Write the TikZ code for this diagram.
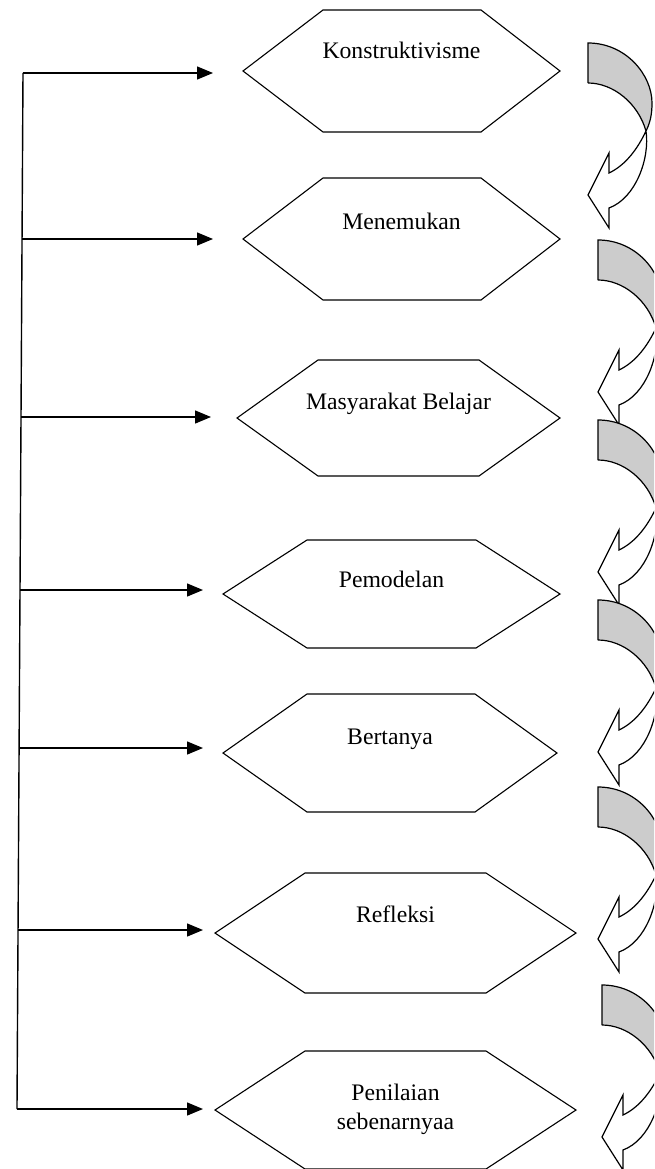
\documentclass[tikz,border=0pt]{standalone}
\usepackage{fontspec}
\setmainfont{Liberation Serif}
\usetikzlibrary{arrows.meta}
\tikzset{
  hexline/.style={line width=1.1pt, line join=miter},
  label/.style={anchor=base, inner sep=0pt, font=\fontsize{23.7}{28.5}\selectfont, align=center},
  feed/.style={line width=1.4pt, -{Triangle[length=16pt,width=13pt]}},
  spine/.style={line width=1.4pt},
  curvarrow/.pic={
    \fill[black!20] (0,0) .. controls (38,0) and (64,32) .. (64,60)
      .. controls (64,72) and (62,80) .. (58,88)
      .. controls (50,60) and (25,40) .. (0,40) -- cycle;
    \fill[white] (58,88) .. controls (62,115) and (48,155) .. (21,165)
      -- (21,185) -- (0,152) -- (21,110) -- (21,130)
      .. controls (38,122) and (50,105) .. (58,88) -- cycle;
    \draw[line width=1.2pt, line join=miter] (0,40) -- (0,0)
      .. controls (38,0) and (64,32) .. (64,60)
      .. controls (64,72) and (62,80) .. (58,88)
      .. controls (50,105) and (38,122) .. (21,130)
      -- (21,110) -- (0,152) -- (21,185) -- (21,165)
      .. controls (48,155) and (62,115) .. (58,88)
      .. controls (50,60) and (25,40) .. (0,40);
  }
}
\begin{document}
\begin{tikzpicture}[x=1pt,y=-1pt]
\clip (0,0) rectangle (654,1169);
\fill[white] (0,0) rectangle (654,1169);

% hexagons
\draw[hexline] (243,71) -- (323,10) -- (481,10) -- (560,71) -- (481,132) -- (323,132) -- cycle;
\draw[hexline] (243,239) -- (323,178) -- (481,178) -- (560,239) -- (481,300) -- (323,300) -- cycle;
\draw[hexline] (237,418) -- (318,360) -- (479,360) -- (560,418) -- (479,476) -- (318,476) -- cycle;
\draw[hexline] (223,594) -- (307,540) -- (476,540) -- (560,594) -- (476,648) -- (307,648) -- cycle;
\draw[hexline] (223,753) -- (307,694) -- (475,694) -- (557,753) -- (475,812) -- (307,812) -- cycle;
\draw[hexline] (215,933) -- (305,873) -- (486,873) -- (576,933) -- (486,993) -- (305,993) -- cycle;
\draw[hexline] (215,1110) -- (305,1051) -- (486,1051) -- (576,1110) -- (486,1169) -- (305,1169) -- cycle;

% labels
\node[label] (h1) at (401.5,59) {Konstruktivisme};
\node[label] (h2) at (401.5,229) {Menemukan};
\node[label] (h3) at (398.5,409) {Masyarakat Belajar};
\node[label] (h4) at (391.5,587) {Pemodelan};
\node[label] (h5) at (390,744) {Bertanya};
\node[label] (h6) at (395.5,922) {Refleksi};
\node[label] (h7) at (395.5,1129) {Penilaian\\sebenarnyaa};

% left spine and feeding arrows
\coordinate (s1) at (23,73);
\coordinate (s2) at (22,239);
\coordinate (s3) at (21,417);
\coordinate (s4) at (20,590);
\coordinate (s5) at (19,748);
\coordinate (s6) at (18,930);
\coordinate (s7) at (17,1109);
\coordinate (t1) at (213,73);
\coordinate (t2) at (213,239);
\coordinate (t3) at (211,417);
\coordinate (t4) at (203,590);
\coordinate (t5) at (203,748);
\coordinate (t6) at (203,930);
\coordinate (t7) at (203,1109);
\draw[spine] (s1) -- (s7);
\foreach \i in {1,...,7} {\draw[feed] (s\i) -- (t\i);}

% curved arrows on the right
\pic at (588,43) {curvarrow};
\pic at (598,240) {curvarrow};
\pic at (598,420) {curvarrow};
\pic at (598,600) {curvarrow};
\pic at (598,787) {curvarrow};
\pic at (602,985) {curvarrow};
\end{tikzpicture}
\end{document}
